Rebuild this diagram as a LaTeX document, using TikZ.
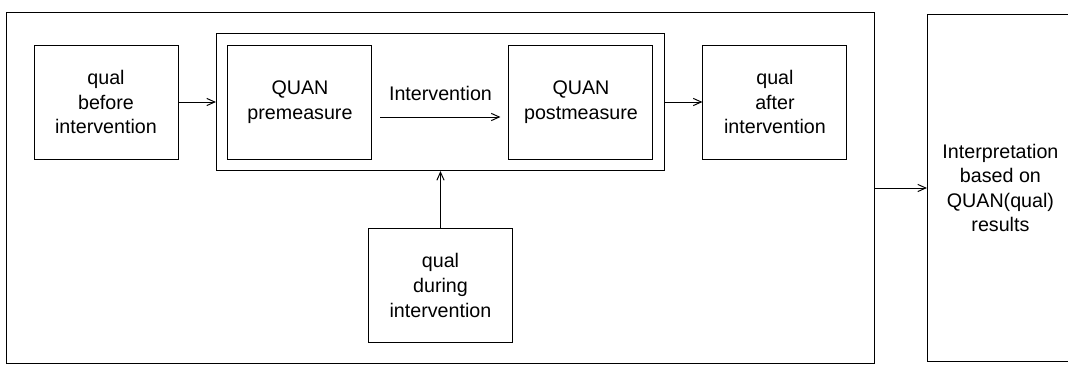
\documentclass[tikz,border=0pt]{standalone}
\usepackage{fontspec}
\setmainfont{Liberation Sans}
\usepackage{tikz}
\usetikzlibrary{positioning, arrows.meta, fit}
\tikzset{phase node/.style={rectangle, draw, line width=0.7pt, minimum width=3.6cm, minimum height=2.85cm, inner sep=0pt, align=center, font=\fontsize{14pt}{17.5pt}\selectfont},}
\tikzset{flow/.style={-{Straight Barb[length=2mm,width=1.8mm]}, line width=0.7pt},}

\begin{document}
\begin{tikzpicture}[line width=0.7pt]
			\useasboundingbox (0,0) rectangle (26.7,-9.125);
			% Boxes
			\node[phase node] (before) at (2.65,-2.55) {qual\\before\\intervention};
			\node[phase node] [right = 1.225cm of before] (pre) {QUAN\\premeasure};
			\node[phase node] [right = 3.4cm of pre] (post) {QUAN\\postmeasure};
			\node[phase node] [right = 1.225cm of post] (after) {qual\\after\\intervention};
			\node[draw, line width=0.8pt, fit=(pre)(post), inner sep=0.275cm] (frame) {};
			\node[phase node] [below = 1.425cm of frame] (during) {qual\\during\\intervention};
			\node[draw, fit=(before)(frame)(after)(during), inner xsep=0.675cm, inner ysep=0.5cm] (outer) {};
			\node[phase node, minimum width=3.65cm, minimum height=8.675cm] [right = 1.3cm of outer] (result) {Interpretation\\based on\\QUAN(qual)\\results};
			% Arrows
			\draw[flow] (before.east) -- (frame.west |- before.east);
			\draw[flow, shorten <=0.2cm, shorten >=0.2cm] ([yshift=-0.375cm]pre.east) -- ([yshift=-0.375cm]pre.east -| post.west)
				node[midway, yshift=0.6cm, font=\fontsize{14pt}{17.5pt}\selectfont] (label) {Intervention};
			\draw[flow] (frame.east |- after.west) -- (after.west);
			\draw[flow] (during.north) -- (during.north |- frame.south);
			\draw[flow] (outer.east |- result.west) -- (result.west);
		\end{tikzpicture}
\end{document}
